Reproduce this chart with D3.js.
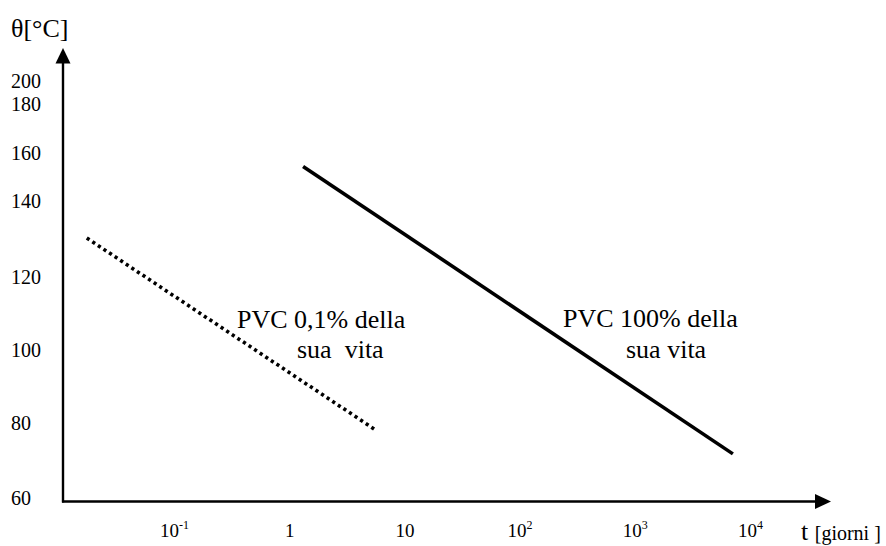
<!DOCTYPE html>
<html>
<head>
<meta charset="utf-8">
<script src="https://cdn.jsdelivr.net/npm/d3@7"></script>
<style>
  body { margin: 0; background: #fff; }
  svg { display: block; }
  text { font-family: "Liberation Serif", serif; fill: #000; }
</style>
</head>
<body>
<svg id="chart" width="886" height="546"></svg>
<script>
// temperature ticks (°C) and time ticks (giorni)
const yTicks = [60, 80, 100, 120, 140, 160, 180, 200];
const xTicks = [0.1, 1, 10, 100, 1000, 10000];
const xTickBase = ["10", "1", "10", "10", "10", "10"];
const xTickExp = ["-1", "", "", "2", "3", "4"];

// the two lines, [t, theta]
const lineShort = [[0.0175, 130], [5.55, 78]];   // PVC 0,1% della sua vita
const lineLife = [[1.32, 154], [7100, 71.5]];    // PVC 100% della sua vita

const labelShort = ["PVC 0,1% della", "sua  vita"];
const labelLife = ["PVC 100% della", "sua vita"];

const SERIF = "Liberation Serif";
const svg = d3.select("#chart");

// y axis in the original is not evenly spaced, so piecewise linear
const yTickPos = [497, 422, 349, 276, 200, 152, 103, 80];
const y = d3.scaleLinear().domain(yTicks).range(yTickPos);
const x = d3.scaleLog().domain([0.1, 10000]).range([174, 750]);

const x0 = 63, y0 = 501.5;

// axes lines with arrows
svg.append("line")
  .attr("x1", x0).attr("y1", y0 + 1).attr("x2", x0).attr("y2", 60)
  .attr("stroke", "#000").attr("stroke-width", 2.4);
svg.append("path")
  .attr("d", `M${x0},48 L${x0 - 7.5},63.5 L${x0 + 7.5},63.5 Z`)
  .attr("fill", "#000");

svg.append("line")
  .attr("x1", x0 - 1).attr("y1", y0).attr("x2", 818).attr("y2", y0)
  .attr("stroke", "#000").attr("stroke-width", 2.4);
svg.append("path")
  .attr("d", `M831,${y0} L815,${y0 - 7.5} L815,${y0 + 7.5} Z`)
  .attr("fill", "#000");

// y tick labels
svg.append("g")
  .call(d3.axisLeft(y).tickValues(yTicks).tickSize(0))
  .attr("font-family", SERIF)
  .call(g => g.select(".domain").remove())
  .call(g => g.selectAll(".tick text")
    .attr("x", 11)
    .attr("dy", "0.35em")
    .attr("text-anchor", "start")
    .attr("fill", "#000")
    .attr("font-family", SERIF)
    .attr("font-size", 20));

// x tick labels with superscripts
const xg = svg.append("g")
  .attr("transform", `translate(0,${y0})`)
  .call(d3.axisBottom(x).tickValues(xTicks).tickSize(0).tickFormat(() => ""))
  .attr("font-family", SERIF)
  .call(g => g.select(".domain").remove());

xg.selectAll(".tick text").each(function(d, i) {
  const t = d3.select(this)
    .attr("y", 35)
    .attr("dy", 0)
    .attr("text-anchor", "middle")
    .attr("fill", "#000")
    .attr("font-family", SERIF)
    .attr("font-size", 19);
  t.append("tspan").text(xTickBase[i]);
  if (xTickExp[i]) {
    t.append("tspan")
      .attr("dy", -8)
      .attr("font-size", 12)
      .text(xTickExp[i]);
  }
});

// axis titles
svg.append("text")
  .attr("x", 11).attr("y", 37)
  .attr("font-family", SERIF)
  .attr("font-size", 26)
  .text("θ[°C]");

const tLabel = svg.append("text")
  .attr("x", 801).attr("y", 540)
  .attr("font-family", SERIF);
tLabel.append("tspan").attr("font-size", 26).text("t ");
tLabel.append("tspan").attr("font-size", 20).text("[giorni ]");

// data lines
const line = d3.line().x(d => x(d[0])).y(d => y(d[1]));

svg.append("path")
  .datum(lineShort)
  .attr("d", line)
  .attr("fill", "none")
  .attr("stroke", "#000")
  .attr("stroke-width", 3.6)
  .attr("stroke-dasharray", "3.2,3.5");

svg.append("path")
  .datum(lineLife)
  .attr("d", line)
  .attr("fill", "none")
  .attr("stroke", "#000")
  .attr("stroke-width", 3.6);

// annotations
function note(lines, xs, ys) {
  const g = svg.append("g")
    .attr("font-family", SERIF)
    .attr("font-size", 26);
  lines.forEach((s, i) => {
    g.append("text")
      .attr("x", xs[i]).attr("y", ys[i])
      .attr("font-family", SERIF)
      .attr("font-size", 26)
      .style("white-space", "pre")
      .text(s);
  });
}
note(labelShort, [237, 297], [327.5, 358]);
note(labelLife, [563, 626], [327, 358]);
</script>
</body>
</html>
